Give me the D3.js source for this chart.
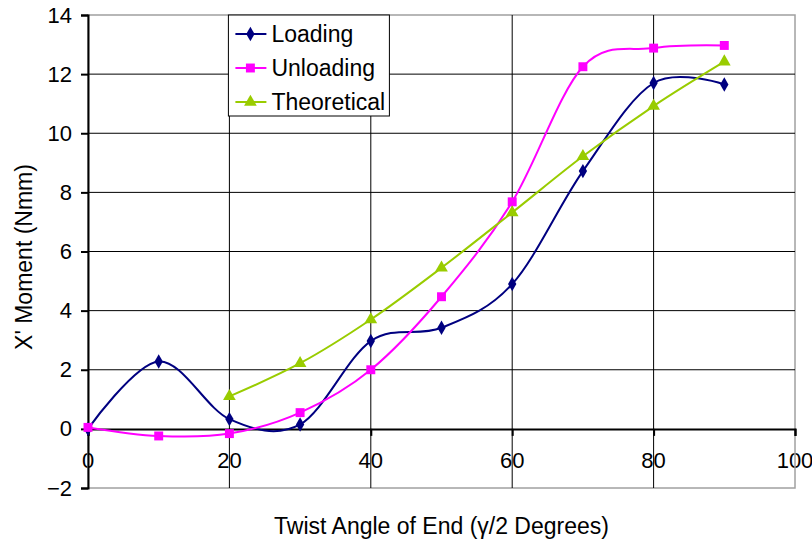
<!DOCTYPE html>
<html>
<head>
<meta charset="utf-8">
<script src="https://cdn.jsdelivr.net/npm/d3@7"></script>
<style>
  body { margin: 0; background: #fff; }
  text { font-family: "Liberation Sans", Arial, sans-serif; }
</style>
</head>
<body>
<div id="chart"></div>
<script>
// data
var angles = [0, 10, 20, 30, 40, 50, 60, 70, 80, 90];
var loading = [0, 2.28, 0.33, 0.15, 2.97, 3.42, 4.9, 8.72, 11.7, 11.65];
var unloading = [0.05, -0.24, -0.16, 0.55, 2.0, 4.47, 7.68, 12.25, 12.88, 12.97];
var theoAngles = [20, 30, 40, 50, 60, 70, 80, 90];
var theoretical = [1.1, 2.22, 3.7, 5.45, 7.32, 9.22, 10.92, 12.42];
var xTicks = [0, 20, 40, 60, 80, 100];
var yTicks = [-2, 0, 2, 4, 6, 8, 10, 12, 14];

var W = 812, H = 542;
var margin = {top: 15, right: 17, bottom: 54, left: 88},
    width = W - margin.left - margin.right,
    height = H - margin.top - margin.bottom;

var svg = d3.select("#chart")
  .append("svg")
    .attr("width", W)
    .attr("height", H)
  .append("g")
    .attr("transform", "translate(" + margin.left + "," + margin.top + ")");

var x = d3.scaleLinear().domain([0, 100]).range([0, width]);
var y = d3.scaleLinear().domain([-2, 14]).range([height, 0]);

// x tick labels (drawn first, gridlines go through them like the original)
svg.selectAll(".xlab")
  .data(xTicks)
  .enter().append("text")
    .attr("x", function(d) { return x(d); })
    .attr("y", y(0) + 39)
    .attr("text-anchor", "middle")
    .style("font-size", "22px")
    .text(function(d) { return d; });

// plot border
svg.append("rect")
    .attr("width", width)
    .attr("height", height)
    .attr("fill", "none")
    .attr("stroke", "#a0a0a0")
    .attr("stroke-width", 1.5);

// horizontal grid
svg.selectAll(".hgrid")
  .data(yTicks.filter(function(d) { return d > -2 && d < 14 && d !== 0; }))
  .enter().append("line")
    .attr("x1", 0).attr("x2", width)
    .attr("y1", function(d) { return y(d); })
    .attr("y2", function(d) { return y(d); })
    .attr("stroke", "#000").attr("stroke-width", 1);

// vertical grid
svg.selectAll(".vgrid")
  .data(xTicks.filter(function(d) { return d > 0 && d < 100; }))
  .enter().append("line")
    .attr("y1", 0).attr("y2", height)
    .attr("x1", function(d) { return x(d); })
    .attr("x2", function(d) { return x(d); })
    .attr("stroke", "#000").attr("stroke-width", 1);

// y axis
var yAxis = svg.append("g")
    .call(d3.axisLeft(y).tickValues(yTicks).tickSize(7).tickPadding(9));
yAxis.select(".domain").attr("stroke", "#000").attr("stroke-width", 2);
yAxis.selectAll("text").style("font-size", "22px").attr("fill", "#000")
    .style("font-family", "Liberation Sans, Arial, sans-serif");
yAxis.selectAll(".tick line").attr("stroke-width", 2);

// x axis along y=0
var xAxis = svg.append("g")
    .attr("transform", "translate(0," + y(0) + ")")
    .call(d3.axisBottom(x).tickValues(xTicks).tickSize(7).tickFormat(""));
xAxis.select(".domain").attr("stroke", "#000").attr("stroke-width", 2);
xAxis.selectAll(".tick line").attr("stroke-width", 2);

// axis titles
svg.append("text")
    .attr("x", width / 2)
    .attr("y", height + 46)
    .attr("text-anchor", "middle")
    .style("font-size", "23px")
    .text("Twist Angle of End (\u03b3/2 Degrees)");

svg.append("text")
    .attr("transform", "rotate(-90)")
    .attr("x", -242)
    .attr("y", -56)
    .attr("text-anchor", "middle")
    .style("font-size", "23px")
    .text("X' Moment (Nmm)");

var line = d3.line()
    .x(function(d) { return x(d[0]); })
    .y(function(d) { return y(d[1]); })
    .curve(d3.curveCardinal.tension(0));

var series = [
  {name: "Loading", color: "#000080", pts: d3.zip(angles, loading), sym: d3.symbolDiamond, size: 60},
  {name: "Unloading", color: "#ff00ff", pts: d3.zip(angles, unloading), sym: d3.symbolSquare, size: 80},
  {name: "Theoretical", color: "#99cc00", pts: d3.zip(theoAngles, theoretical), sym: d3.symbolTriangle, size: 70}
];

series.forEach(function(s) {
  svg.append("path")
      .datum(s.pts)
      .attr("d", line)
      .attr("fill", "none")
      .attr("stroke", s.color)
      .attr("stroke-width", 2);
  svg.selectAll(null)
    .data(s.pts)
    .enter().append("path")
      .attr("d", d3.symbol().type(s.sym).size(s.size))
      .attr("transform", function(d) { return "translate(" + x(d[0]) + "," + y(d[1]) + ")"; })
      .attr("fill", s.color);
});

// legend
var lx = x(20) - 1, ly = 0;
var legend = svg.append("g").attr("transform", "translate(" + lx + "," + ly + ")");
legend.append("rect")
    .attr("width", 161).attr("height", 101)
    .attr("fill", "#fff").attr("stroke", "#000").attr("stroke-width", 1);
series.forEach(function(s, i) {
  var cy = 19 + i * 34;
  legend.append("line")
      .attr("x1", 7).attr("x2", 38)
      .attr("y1", cy).attr("y2", cy)
      .attr("stroke", s.color).attr("stroke-width", 2);
  legend.append("path")
      .attr("d", d3.symbol().type(s.sym).size(s.size))
      .attr("transform", "translate(22," + cy + ")")
      .attr("fill", s.color);
  legend.append("text")
      .attr("x", 43).attr("y", cy + 8)
      .style("font-size", "23px")
      .text(s.name);
});
</script>
</body>
</html>
